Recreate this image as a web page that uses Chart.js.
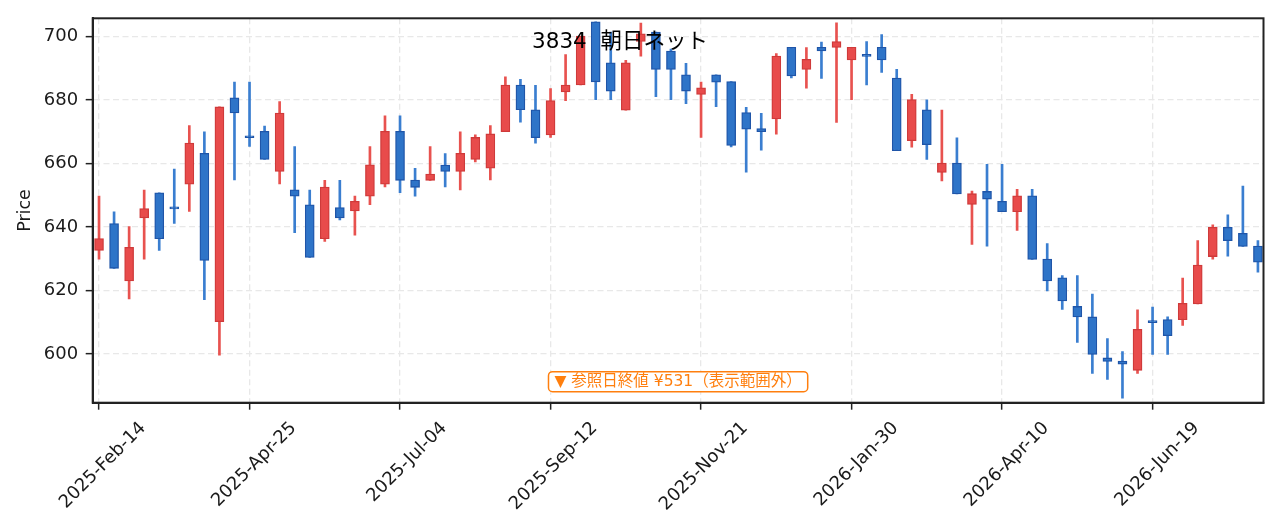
<!DOCTYPE html>
<html><head><meta charset="utf-8">
<script src="https://cdn.jsdelivr.net/npm/chart.js@4.4.0/dist/chart.umd.min.js"></script>
<style>html,body{margin:0;padding:0;background:#fff;overflow:hidden;}#wrap{width:1279px;height:532px;}</style>
</head><body><div id="wrap"><canvas id="c" width="1279" height="532"></canvas></div>
<script>
// weekly candle dates
const categories = [
'2025-02-14','2025-02-21','2025-02-28','2025-03-07','2025-03-14','2025-03-21','2025-03-28','2025-04-04','2025-04-11','2025-04-18',
'2025-04-25','2025-05-02','2025-05-09','2025-05-16','2025-05-23','2025-05-30','2025-06-06','2025-06-13','2025-06-20','2025-06-27',
'2025-07-04','2025-07-11','2025-07-18','2025-07-25','2025-08-01','2025-08-08','2025-08-15','2025-08-22','2025-08-29','2025-09-05',
'2025-09-12','2025-09-19','2025-09-26','2025-10-03','2025-10-10','2025-10-17','2025-10-24','2025-10-31','2025-11-07','2025-11-14',
'2025-11-21','2025-11-28','2025-12-05','2025-12-12','2025-12-19','2025-12-26','2026-01-02','2026-01-09','2026-01-16','2026-01-23',
'2026-01-30','2026-02-06','2026-02-13','2026-02-20','2026-02-27','2026-03-06','2026-03-13','2026-03-20','2026-03-27','2026-04-03',
'2026-04-10','2026-04-17','2026-04-24','2026-05-01','2026-05-08','2026-05-15','2026-05-22','2026-05-29','2026-06-05','2026-06-12',
'2026-06-19','2026-06-26','2026-07-03','2026-07-10','2026-07-17','2026-07-24','2026-07-31','2026-08-07'];

const opens = [
632.6,641.1,623.0,642.9,650.8,645.9,653.5,663.2,610.2,680.7,
668.3,670.1,657.5,651.7,647.0,636.3,646.1,645.1,649.7,653.5,
670.1,654.8,654.7,659.5,657.5,661.3,658.5,670.0,684.7,676.9,
669.0,682.5,684.7,704.6,691.7,676.8,698.4,701.4,695.4,687.9,
681.7,687.9,685.8,676.0,671.0,674.0,696.6,689.6,696.6,696.5,
692.6,693.9,696.6,686.9,667.2,676.9,657.2,660.1,647.1,651.2,
648.1,644.8,649.8,629.9,624.0,615.0,611.7,598.8,597.8,594.9,
610.1,610.9,610.8,615.8,630.7,639.9,638.0,634.0];

const highs = [
649.7,644.8,640.1,651.6,650.8,658.2,671.9,670.0,677.8,685.6,
685.6,671.8,679.5,665.3,651.6,654.7,654.7,649.7,665.3,675.0,
675.0,658.5,665.3,663.1,670.0,669.0,671.9,687.3,686.5,684.6,
683.6,694.3,700.1,704.6,701.4,692.5,704.2,701.4,696.0,691.5,
685.6,687.9,685.8,677.7,675.8,694.6,696.6,696.5,698.2,704.3,
696.6,698.4,700.6,689.6,681.8,680.0,676.8,668.1,651.3,659.7,
659.7,651.9,651.9,634.8,624.7,624.7,618.9,604.9,600.8,613.9,
614.8,611.7,623.9,635.7,640.7,643.8,652.9,635.7];

const lows = [
629.9,627.0,617.4,629.9,632.6,641.1,644.9,617.1,599.7,654.8,
665.4,661.3,653.6,638.2,630.4,635.5,642.2,637.4,647.0,652.6,
650.8,649.7,654.7,652.6,651.7,660.5,654.8,670.0,673.0,666.4,
668.2,679.8,684.7,680.1,680.1,676.8,693.8,681.0,680.1,678.8,
668.2,677.9,665.2,657.3,664.2,669.2,686.9,683.7,686.8,672.9,
680.1,684.7,688.7,664.0,665.1,661.3,654.5,650.4,634.5,634.0,
644.8,638.9,629.8,619.9,614.1,603.7,593.9,592.0,586.1,593.9,
599.9,599.9,609.0,615.8,629.9,630.8,633.9,625.8];

const closes = [
636.4,627.0,633.6,645.8,636.3,645.7,666.4,629.5,677.8,675.9,
668.1,661.3,675.9,649.7,630.4,652.6,642.9,648.1,659.6,670.1,
654.7,652.5,656.7,657.5,663.2,668.2,669.3,684.7,676.9,668.1,
679.8,684.7,700.1,685.7,682.8,691.7,700.8,689.6,689.6,682.8,
683.8,685.6,665.7,670.8,670.0,693.8,687.6,692.8,695.4,698.4,
696.6,693.7,692.6,664.0,680.1,665.9,660.1,650.4,650.5,648.8,
644.8,649.8,629.8,623.0,616.7,611.7,599.9,597.7,596.8,607.8,
609.9,605.8,616.0,628.0,639.9,635.7,633.9,628.9];

const tickPositions = [0,10,20,30,40,50,60,70];
const tickLabels = ['2025-Feb-14','2025-Apr-25','2025-Jul-04','2025-Sep-12','2025-Nov-21','2026-Jan-30','2026-Apr-10','2026-Jun-19'];
const yTicks = [600,620,640,660,680,700];
const titleText = '3834  朝日ネット';
const noteText = '▼ 参照日終値 ¥531（表示範囲外）';

const FONT = "'DejaVu Sans', 'Noto Sans CJK JP', sans-serif";
Chart.defaults.font.family = FONT;

const up = closes.map((c,i)=> c >= opens[i]);
const bodyData = categories.map((d,i)=>({x:i, y:[opens[i], closes[i]]}));
const wickData = categories.map((d,i)=>({x:i, y:[lows[i], highs[i]]}));

const deco = {
  id:'deco',
  afterDraw(chart){
    const {ctx, chartArea:a} = chart;
    ctx.save();
    ctx.strokeStyle = '#222'; ctx.lineWidth = 2;
    ctx.strokeRect(a.left, a.top, a.right-a.left, a.bottom-a.top);
    // title
    ctx.fillStyle = '#000';
    ctx.font = "21.5px " + FONT;
    ctx.textAlign = 'center'; ctx.textBaseline = 'alphabetic';
    ctx.fillText(titleText, 620, 48);
    // note box
    ctx.font = "15.5px " + FONT;
    const w = ctx.measureText(noteText).width;
    const cx = (a.left + a.right)/2, cy = a.bottom - 21;
    const bw = w + 12, bh = 20, r = 4;
    const x0 = cx - bw/2, y0 = cy - bh/2;
    ctx.beginPath();
    ctx.moveTo(x0+r, y0); ctx.lineTo(x0+bw-r, y0); ctx.arcTo(x0+bw, y0, x0+bw, y0+r, r);
    ctx.lineTo(x0+bw, y0+bh-r); ctx.arcTo(x0+bw, y0+bh, x0+bw-r, y0+bh, r);
    ctx.lineTo(x0+r, y0+bh); ctx.arcTo(x0, y0+bh, x0, y0+bh-r, r);
    ctx.lineTo(x0, y0+r); ctx.arcTo(x0, y0, x0+r, y0, r); ctx.closePath();
    ctx.fillStyle = '#fff'; ctx.fill();
    ctx.strokeStyle = '#ff7f0e'; ctx.lineWidth = 1.5; ctx.stroke();
    ctx.fillStyle = '#ff7f0e'; ctx.textAlign = 'center'; ctx.textBaseline = 'middle';
    ctx.fillText(noteText, cx, cy + 0.5);
    ctx.restore();
  }
};

new Chart(document.getElementById('c'), {
  type: 'bar',
  data: { datasets: [
    { label:'body', data: bodyData,
      backgroundColor: up.map(u=>u?'#e84b4b':'#2e74c8'),
      borderColor: up.map(u=>u?'#cf3a3a':'#1f55a8'),
      borderWidth: 1.3, borderSkipped: false, barThickness: 9, minBarLength: 2,
      grouped: false, order: 1 },
    { label:'wick', data: wickData,
      backgroundColor: up.map(u=>u?'#e8524f':'#3a7ed0'),
      borderWidth: 0, barThickness: 2, grouped: false, order: 2 }
  ]},
  options: {
    responsive: false, animation: false, devicePixelRatio: 1,
    layout: { padding: { left: 0, right: 15.5, top: 15.5, bottom: 0 } },
    plugins: { legend: { display: false }, tooltip: { enabled: false }, title: { display: false } },
    scales: {
      x: {
        type: 'linear', min: -0.42, max: 77.37, offset: false,
        afterBuildTicks: s => { s.ticks = tickPositions.map(v => ({ value: v })); },
        afterFit: s => { s.height = 129.3; },
        ticks: { autoSkip: false, maxRotation: 45, minRotation: 45, labelOffset: 44, padding: 8,
          color: '#1a1a1a', font: { size: 18 },
          callback: v => { const k = tickPositions.indexOf(v); return k >= 0 ? tickLabels[k] : ''; } },
        grid: { offset: false, color: '#e8e8e8', lineWidth: 1.3, tickLength: 7, tickColor: '#222', tickWidth: 1.5, tickBorderDash: [] },
        border: { display: true, color: '#222', width: 2, dash: [6, 3.5] }
      },
      y: {
        min: 584.7, max: 705.7,
        afterBuildTicks: s => { s.ticks = yTicks.map(v => ({ value: v })); },
        afterFit: s => { s.width = 92.7; },
        ticks: { padding: 7.5, color: '#1a1a1a', font: { size: 18 } },
        grid: { color: '#e8e8e8', lineWidth: 1.3, tickLength: 7, tickColor: '#222', tickWidth: 1.5, tickBorderDash: [] },
        border: { display: true, color: '#222', width: 2, dash: [6, 3.5] },
        title: { display: true, text: 'Price', color: '#1a1a1a', font: { size: 17.5 }, padding: { top: 14.5, bottom: 0 } }
      }
    }
  },
  plugins: [deco]
});
</script>
</body></html>
